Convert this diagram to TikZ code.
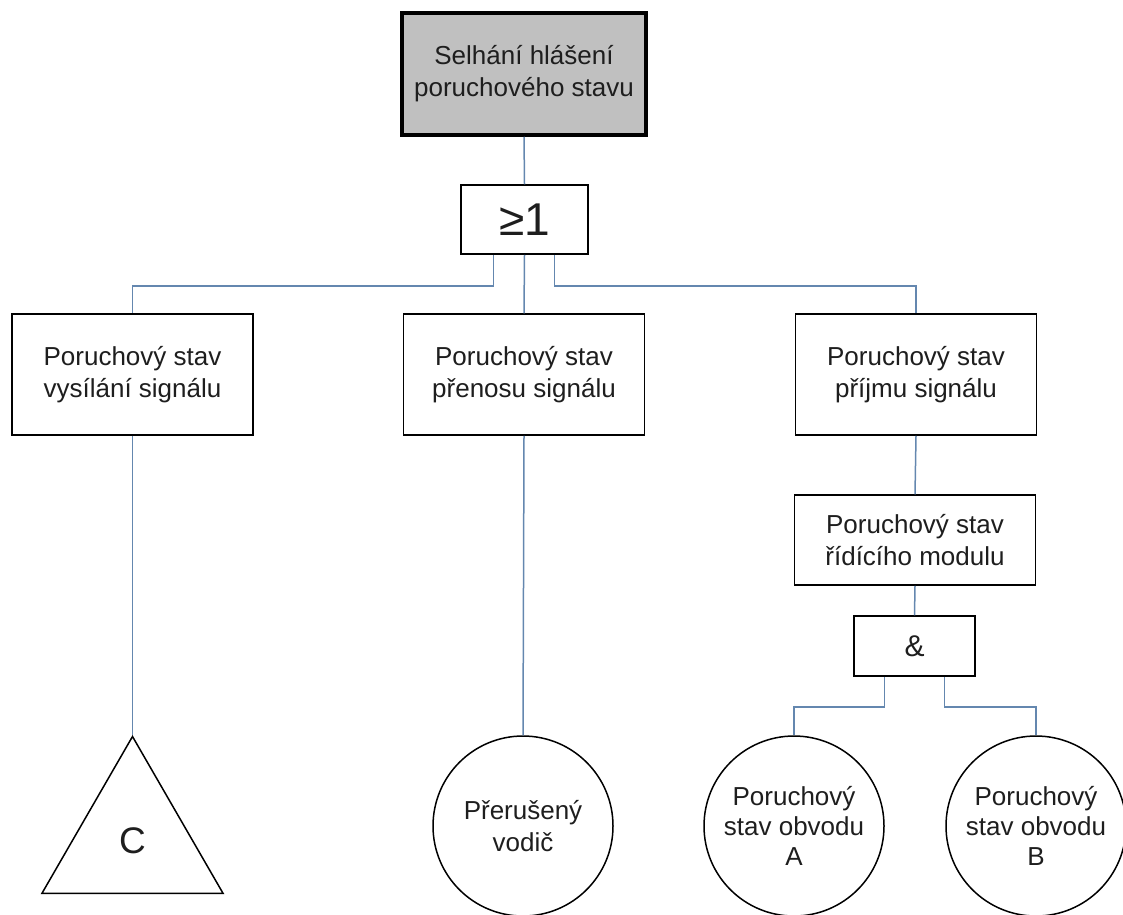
\documentclass[tikz,border=0pt]{standalone}
\usepackage{fontspec}
\setmainfont{Liberation Sans}
\usetikzlibrary{shapes.geometric}
\definecolor{wire}{RGB}{100,135,175}
\definecolor{topfill}{RGB}{192,192,192}
\definecolor{ink}{RGB}{30,30,30}
\begin{document}
\begin{tikzpicture}[x=1pt,y=-1pt,
  every node/.style={text=ink,font=\fontsize{26}{32}\selectfont,align=center,inner sep=0pt},
  event/.style={draw=black,line width=1.5pt,fill=white,minimum width=241pt,minimum height=121pt},
  gatebox/.style={draw=black,line width=1.5pt,fill=white},
  basic/.style={draw=black,line width=1.5pt,circle,minimum size=180pt},
  transfer/.style={draw=black,line width=1.5pt,regular polygon,regular polygon sides=3,minimum size=209pt},
  link/.style={draw=wire,line width=1.5pt}]
\useasboundingbox (0,0) rectangle (1123,914);
\clip (0,0) rectangle (1123,914);

% top event and OR gate
\node[event,fill=topfill,line width=3.5pt,minimum width=244pt,minimum height=122pt] (top) at (524,74)
  {Selhání hlášení\\poruchového stavu};
\node[gatebox,minimum width=127pt,minimum height=69pt,font=\fontsize{46}{50}\selectfont] (or) at (524.5,219.5) {≥1};

% intermediate events
\node[event] (b1) at (132.5,374.5) {Poruchový stav\\vysílání signálu};
\node[event] (b2) at (524,374.5) {Poruchový stav\\přenosu signálu};
\node[event] (b3) at (916,374.5) {Poruchový stav\\příjmu signálu};
\node[event,minimum height=90pt] (b4) at (915,540) {Poruchový stav\\řídícího modulu};
\node[gatebox,minimum width=121pt,minimum height=60pt,font=\fontsize{30}{32}\selectfont] (and) at (914.5,646) {\&};

% bottom symbols
\node[transfer,font=\fontsize{37}{40}\selectfont] (tri) at (132.5,841) {C};
\node[basic,font=\fontsize{26}{32}\selectfont] (c1) at (523,826) {Přerušený\\vodič};
\node[basic,font=\fontsize{26}{30}\selectfont] (cA) at (794,826) {Poruchový\\stav obvodu\\A};
\node[basic,font=\fontsize{26}{30}\selectfont] (cB) at (1036,826) {Poruchový\\stav obvodu\\B};

% connectors
\draw[link] (top.south) -- (or.north);
\draw[link] ([xshift=-31pt]or.south) -- ++(0,31) -| (b1.north);
\draw[link] (or.south) -- (b2.north);
\draw[link] ([xshift=30pt]or.south) -- ++(0,31) -| (b3.north);
\draw[link] (b1.south) -- (tri.corner 1);
\draw[link] (b2.south) -- (c1.north);
\draw[link] (b3.south) -- (b4.north);
\draw[link] (b4.south) -- (and.north);
\draw[link] ([xshift=-30pt]and.south) -- ++(0,30) -| (cA.north);
\draw[link] ([xshift=30pt]and.south) -- ++(0,30) -| (cB.north);
\end{tikzpicture}
\end{document}
